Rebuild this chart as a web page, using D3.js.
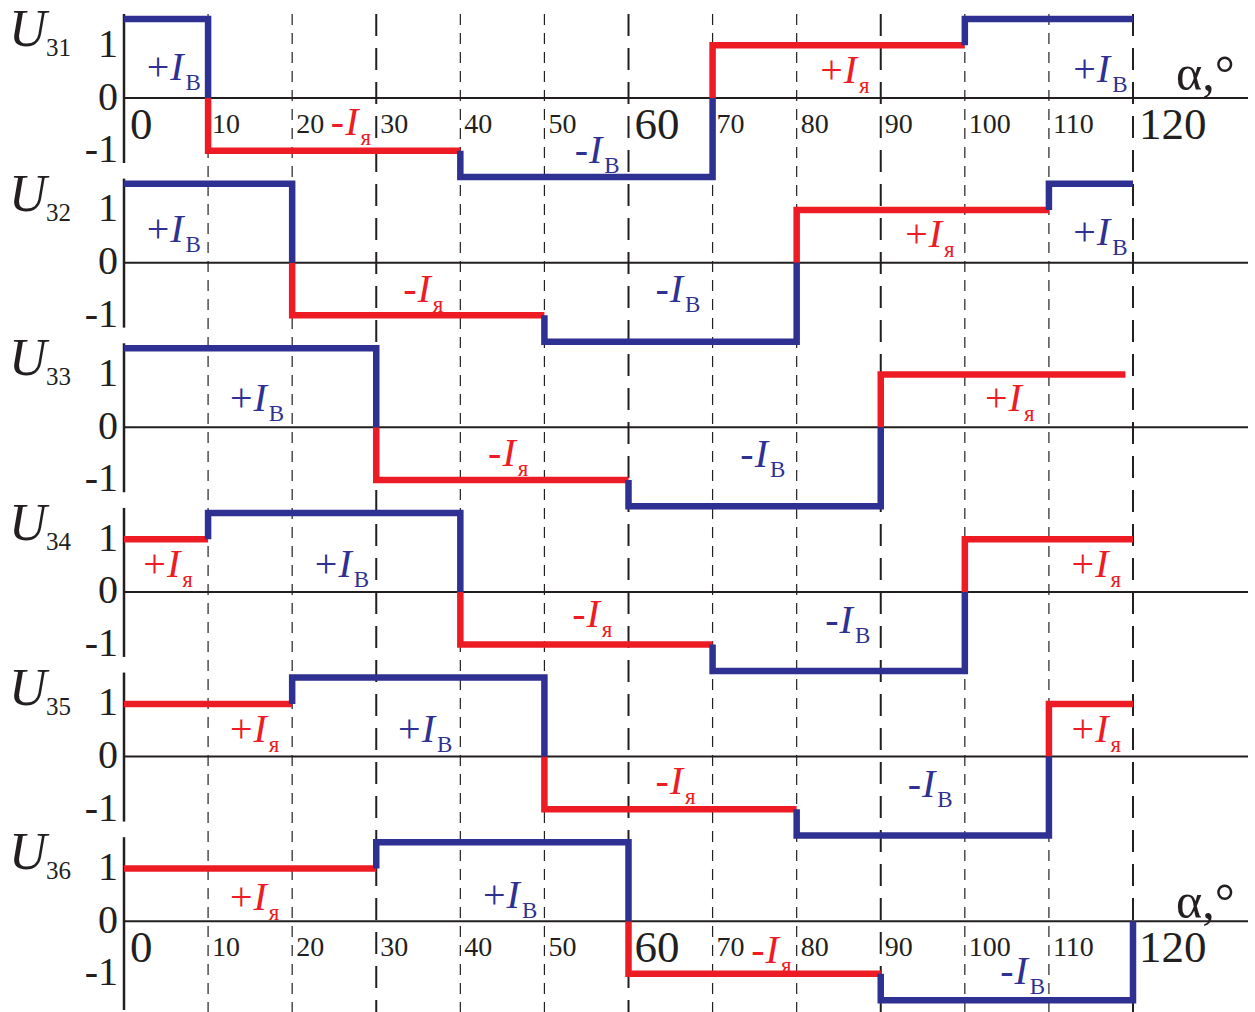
<!DOCTYPE html>
<html>
<head>
<meta charset="utf-8">
<script src="https://cdn.jsdelivr.net/npm/d3@7"></script>
<style>
  html, body { margin: 0; background: #ffffff; }
  svg { display: block; }
  text { font-family: "Liberation Serif", "Times New Roman", serif; }
</style>
</head>
<body>
<svg id="chart" width="1255" height="1012"></svg>
<script>
// Switching angle axis, degrees
const angleTicks = d3.range(0, 121, 10);
const largeAngleLabels = [0, 60, 120];
const heavyGridAngles = [30, 60, 90, 120];
const levelTicks = [1, 0, -1];

// Rows: U31 … U36
const rowNames = ["31", "32", "33", "34", "35", "36"];
const slotWidth = 10;

// Level in each 10° slot: ±1.5 — field current I_В, ±1 — armature current I_я
const u31 = [1.5, -1, -1, -1, -1.5, -1.5, -1.5, 1, 1, 1, 1.5, 1.5];
const u32 = [1.5, 1.5, -1, -1, -1, -1.5, -1.5, -1.5, 1, 1, 1, 1.5];
const u33 = [1.5, 1.5, 1.5, -1, -1, -1, -1.5, -1.5, -1.5, 1, 1, 1];
const u34 = [1, 1.5, 1.5, 1.5, -1, -1, -1, -1.5, -1.5, -1.5, 1, 1];
const u35 = [1, 1, 1.5, 1.5, 1.5, -1, -1, -1, -1.5, -1.5, -1.5, 1];
const u36 = [1, 1, 1, 1.5, 1.5, 1.5, -1, -1, -1, -1.5, -1.5, -1.5];
const rowLevels = [u31, u32, u33, u34, u35, u36];
const traceEnds = [120, 120, 119.1, 120, 120, 120];
const returnsToZero = [false, false, false, false, false, true];

// Annotations: [angle, level, sign, current]
const labels31 = [[2.7, 0.34, "+", "В"], [24.6, -0.70, "-", "я"], [53.6, -1.23, "-", "В"], [82.8, 0.28, "+", "я"], [112.9, 0.30, "+", "В"]];
const labels32 = [[2.7, 0.40, "+", "В"], [33.2, -0.74, "-", "я"], [63.2, -0.74, "-", "В"], [92.9, 0.30, "+", "я"], [112.9, 0.34, "+", "В"]];
const labels33 = [[12.6, 0.30, "+", "В"], [43.3, -0.74, "-", "я"], [73.3, -0.76, "-", "В"], [102.4, 0.30, "+", "я"]];
const labels34 = [[2.3, 0.28, "+", "я"], [22.7, 0.28, "+", "В"], [53.3, -0.66, "-", "я"], [83.4, -0.78, "-", "В"], [112.7, 0.28, "+", "я"]];
const labels35 = [[12.6, 0.28, "+", "я"], [32.6, 0.28, "+", "В"], [63.2, -0.72, "-", "я"], [93.2, -0.76, "-", "В"], [112.7, 0.28, "+", "я"]];
const labels36 = [[12.6, 0.21, "+", "я"], [42.7, 0.25, "+", "В"], [74.6, -0.80, "-", "я"], [104.2, -1.2, "-", "В"]];
const rowLabels = [labels31, labels32, labels33, labels34, labels35, labels36];

const axisRowsWithAngles = [0, 5];

const ink = "#231f20";
const blue = "#2e3192";
const red = "#ed1c24";
const colorOf = v => Math.abs(v) > 1 ? blue : red;

const svg = d3.select("#chart");

const x = d3.scaleLinear().domain([0, 120]).range([124, 1133]);
const rowBase = d3.scaleLinear().domain([0, rowNames.length - 1]).range([98, 921.2]);
const yFor = i => {
  const b = rowBase(i);
  return d3.scaleLinear().domain([-1.5, 1.5]).range([b + 79, b - 79]);
};

// Dashed angle grid across all rows
svg.append("g").selectAll("line")
  .data(angleTicks.filter(a => a > 0))
  .join("line")
  .attr("x1", d => x(d)).attr("x2", d => x(d))
  .attr("y1", 14).attr("y2", 1012)
  .attr("stroke", ink)
  .attr("stroke-width", d => heavyGridAngles.includes(d) ? 2 : 1.2)
  .attr("stroke-dasharray", d => heavyGridAngles.includes(d) ? "22,12" : "11,8");

const line = d3.line();

rowNames.forEach((name, i) => {
  const y = yFor(i);
  const b = y(0);
  const g = svg.append("g");

  // zero line and level axis
  g.append("line")
    .attr("x1", x(0)).attr("x2", 1248).attr("y1", b).attr("y2", b)
    .attr("stroke", ink).attr("stroke-width", 2);
  g.append("line")
    .attr("x1", x(0)).attr("x2", x(0))
    .attr("y1", b - 84).attr("y2", i === rowNames.length - 1 ? 1010 : b + 65)
    .attr("stroke", ink).attr("stroke-width", 2.5);

  // level tick labels
  g.append("g").selectAll("text")
    .data(levelTicks)
    .join("text")
    .attr("x", 118).attr("y", d => y(d) + 11.5)
    .attr("text-anchor", "end")
    .attr("font-size", 40).attr("fill", ink)
    .text(d => d);

  // row title U3x
  const title = g.append("text").attr("x", 9).attr("y", b - 52).attr("fill", ink);
  title.append("tspan").attr("font-size", 52).attr("font-style", "italic").text("U");
  title.append("tspan").attr("x", 46).attr("dy", 10).attr("font-size", 25).text(name);

  // angle tick labels
  if (axisRowsWithAngles.includes(i)) {
    g.append("g").selectAll("text")
      .data(angleTicks)
      .join("text")
      .attr("x", d => x(d) + (largeAngleLabels.includes(d) ? 6 : 4))
      .attr("y", d => b + (largeAngleLabels.includes(d) ? 41 : 35))
      .attr("font-size", d => largeAngleLabels.includes(d) ? 45 : 28)
      .attr("fill", ink)
      .text(d => d);
    g.append("text")
      .attr("x", 1176).attr("y", i === 0 ? b - 8 : b - 3)
      .attr("font-size", 50).attr("fill", ink)
      .text("α,°");
  }

  // merge slots into constant-level segments
  const levels = rowLevels[i];
  const segs = [];
  levels.forEach((v, k) => {
    const last = segs[segs.length - 1];
    if (last && last.v === v) last.b = (k + 1) * slotWidth;
    else segs.push({ a: k * slotWidth, b: (k + 1) * slotWidth, v });
  });
  segs[segs.length - 1].b = traceEnds[i];

  const paths = segs.map((s, k) => {
    const prev = segs[k - 1], next = segs[k + 1];
    const pts = [];
    if (prev) {
      if (Math.sign(prev.v) !== Math.sign(s.v)) pts.push([x(s.a), y(0)]);
      else if (Math.abs(s.v) > Math.abs(prev.v)) pts.push([x(s.a), y(prev.v)]);
    }
    pts.push([x(s.a), y(s.v)], [x(s.b), y(s.v)]);
    if (next) {
      if (Math.sign(next.v) !== Math.sign(s.v)) pts.push([x(s.b), y(0)]);
      else if (Math.abs(s.v) > Math.abs(next.v)) pts.push([x(s.b), y(next.v)]);
    } else if (returnsToZero[i]) {
      pts.push([x(s.b), y(0)]);
    }
    return { v: s.v, pts };
  });
  paths.sort((p, q) => Math.abs(p.v) - Math.abs(q.v));

  g.append("g").selectAll("path")
    .data(paths)
    .join("path")
    .attr("d", d => line(d.pts))
    .attr("fill", "none")
    .attr("stroke", d => colorOf(d.v))
    .attr("stroke-width", 6.5)
    .attr("stroke-linejoin", "miter")
    .attr("stroke-linecap", "butt");

  // current annotations
  const lab = g.append("g").selectAll("text")
    .data(rowLabels[i])
    .join("text")
    .attr("x", d => x(d[0])).attr("y", d => y(d[1]))
    .attr("fill", d => d[3] === "В" ? blue : red)
    .attr("font-size", 40);
  lab.append("tspan").text(d => d[2]);
  lab.append("tspan").attr("font-style", "italic").attr("dx", 1).text("I");
  lab.append("tspan").attr("font-size", 23).attr("dx", 2).attr("dy", 10).text(d => d[3]);
});
</script>
</body>
</html>
